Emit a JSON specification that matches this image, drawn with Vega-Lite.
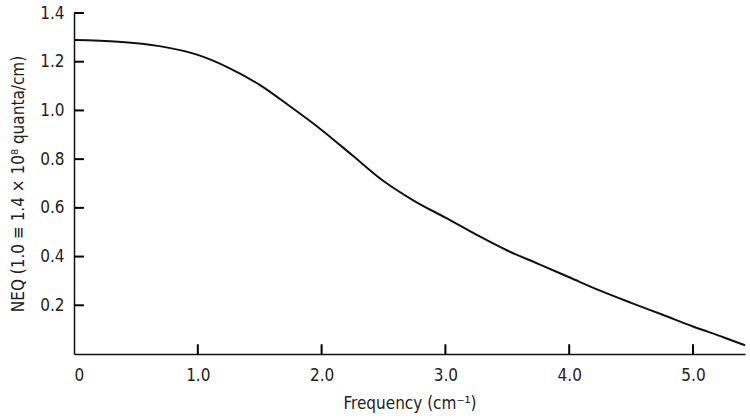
{
  "$schema": "https://vega.github.io/schema/vega-lite/v6.json",
  "width": 671,
  "height": 341,
  "autosize": {"type": "none"},
  "padding": {"left": 74, "top": 13, "right": 5, "bottom": 65},
  "background": "white",
  "config": {
    "view": {"stroke": null},
    "font": "DejaVu Sans Condensed",
    "axis": {
      "grid": false,
      "domainColor": "#111",
      "domainWidth": 1.5,
      "labelColor": "#222",
      "titleColor": "#222",
      "labelFont": "DejaVu Sans Condensed",
      "titleFont": "DejaVu Sans Condensed",
      "labelFontSize": 17,
      "titleFontSize": 17,
      "titleFontWeight": "normal"
    }
  },
  "datasets": {
    "curve": [
      {"f": 0.0, "neq": 1.289},
      {"f": 0.36, "neq": 1.282},
      {"f": 0.69, "neq": 1.264},
      {"f": 1.0, "neq": 1.228},
      {"f": 1.25, "neq": 1.175},
      {"f": 1.5, "neq": 1.105},
      {"f": 1.75, "neq": 1.015},
      {"f": 2.0, "neq": 0.92},
      {"f": 2.25, "neq": 0.815},
      {"f": 2.5, "neq": 0.71},
      {"f": 2.75, "neq": 0.628},
      {"f": 3.0, "neq": 0.56},
      {"f": 3.25, "neq": 0.49},
      {"f": 3.5, "neq": 0.425},
      {"f": 3.75, "neq": 0.37},
      {"f": 4.0, "neq": 0.315},
      {"f": 4.25, "neq": 0.26},
      {"f": 4.5, "neq": 0.21},
      {"f": 4.75, "neq": 0.162},
      {"f": 5.0, "neq": 0.113},
      {"f": 5.25, "neq": 0.068},
      {"f": 5.42, "neq": 0.036}
    ],
    "xticks": [{"v": 1}, {"v": 2}, {"v": 3}, {"v": 4}, {"v": 5}],
    "yticks": [{"v": 0.2}, {"v": 0.4}, {"v": 0.6}, {"v": 0.8}, {"v": 1.0}, {"v": 1.2}, {"v": 1.4}]
  },
  "layer": [
    {
      "data": {"name": "curve"},
      "mark": {"type": "line", "color": "#111", "strokeWidth": 2, "interpolate": "monotone"},
      "encoding": {
        "x": {
          "field": "f",
          "type": "quantitative",
          "scale": {"domain": [0, 5.42], "nice": false, "zero": true},
          "axis": {
            "orient": "bottom",
            "title": "Frequency (cm⁻¹)",
            "values": [0, 1, 2, 3, 4, 5],
            "ticks": false,
            "labelPadding": 13,
            "labelExpr": "datum.value == 0 ? '0' : format(datum.value, '.1f')",
            "titlePadding": 12
          }
        },
        "y": {
          "field": "neq",
          "type": "quantitative",
          "scale": {"domain": [0, 1.4], "nice": false},
          "axis": {
            "orient": "left",
            "title": "NEQ (1.0 ≡ 1.4 × 10⁸ quanta/cm)",
            "values": [0, 0.2, 0.4, 0.6, 0.8, 1.0, 1.2, 1.4],
            "ticks": false,
            "labelPadding": 10,
            "labelExpr": "datum.value == 0 ? '' : format(datum.value, '.1f')",
            "titlePadding": 12
          }
        }
      }
    },
    {
      "data": {"name": "xticks"},
      "mark": {"type": "rule", "color": "#000", "strokeWidth": 2},
      "encoding": {
        "x": {"field": "v", "type": "quantitative"},
        "y": {"datum": 0},
        "y2": {"datum": 0.04}
      }
    },
    {
      "data": {"name": "yticks"},
      "mark": {"type": "rule", "color": "#000", "strokeWidth": 2},
      "encoding": {
        "y": {"field": "v", "type": "quantitative"},
        "x": {"datum": 0},
        "x2": {"datum": 0.08}
      }
    }
  ]
}
